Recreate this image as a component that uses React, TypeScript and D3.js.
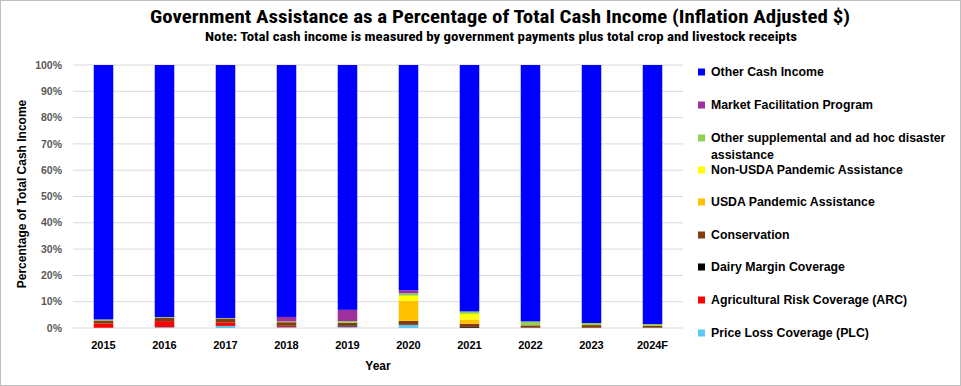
import * as d3 from 'd3'

const years = ['2015', '2016', '2017', '2018', '2019', '2020', '2021', '2022', '2023', '2024F']

// percent of total cash income, bottom of the stack first
const plc = [0.1, 0.3, 0.8, 0.3, 0.4, 1.1, 0.05, 0.05, 0.05, 0.05]
const arc = [1.6, 2.3, 1.3, 0.4, 0.3, 0.1, 0.05, 0.05, 0.05, 0.05]
const dairy = [0.05, 0.05, 0.05, 0.2, 0.3, 0.2, 0.3, 0.1, 0.1, 0.1]
const conservation = [1.1, 1.2, 1.3, 1.3, 1.0, 1.3, 1.2, 0.8, 0.9, 0.7]
const usdaPandemic = [0, 0, 0, 0, 0, 7.7, 1.6, 0, 0, 0]
const nonUsdaPandemic = [0, 0, 0, 0, 0, 1.9, 2.2, 0, 0, 0]
const otherSupplemental = [0.4, 0.3, 0.3, 0.3, 0.6, 0.9, 0.9, 1.5, 0.8, 0.6]
const mfp = [0, 0, 0, 1.7, 4.3, 1.1, 0, 0, 0, 0]
const otherCash = [96.75, 95.85, 96.25, 95.8, 93.1, 85.7, 93.7, 97.5, 98.1, 98.5]

const seriesNames = [
  'Price Loss Coverage (PLC)',
  'Agricultural Risk Coverage (ARC)',
  'Dairy Margin Coverage',
  'Conservation',
  'USDA Pandemic Assistance',
  'Non-USDA Pandemic Assistance',
  'Other supplemental and ad hoc disaster assistance',
  'Market Facilitation Program',
  'Other Cash Income',
]
const seriesValues = [plc, arc, dairy, conservation, usdaPandemic, nonUsdaPandemic, otherSupplemental, mfp, otherCash]
const colors = ['#5fc8f2', '#ff0000', '#000000', '#843c0c', '#ffc000', '#ffff00', '#92d050', '#a0309c', '#0000ff']

const yTicks = [0, 10, 20, 30, 40, 50, 60, 70, 80, 90, 100]

const W = 961
const H = 386
const plot = { left: 73, right: 683, top: 65, bottom: 328 }
const narrow = '"Liberation Sans Narrow", "Roboto Condensed", "Liberation Sans", sans-serif'
const sans = '"Liberation Sans", Arial, sans-serif'

export default function App() {
  const rows = years.map((year, i) => {
    const r: Record<string, number | string> = { year }
    seriesNames.forEach((name, s) => (r[name] = seriesValues[s][i]))
    return r
  })
  const stacked = d3.stack<Record<string, number | string>>().keys(seriesNames).offset(d3.stackOffsetExpand)(rows as any)

  const x = d3.scaleBand().domain(years).range([plot.left, plot.right]).paddingInner(0.68).paddingOuter(0.34)
  const y = d3.scaleLinear().domain([0, 1]).range([plot.bottom, plot.top])

  // legend listed top-down in reverse stack order
  const legend = seriesNames.map((name, i) => ({ name, color: colors[i] })).reverse()
  const legendY = [72, 105, 138, 170, 202, 235, 267, 300, 333]

  return (
    <svg width={W} height={H} style={{ position: 'fixed', left: 0, top: 0, background: '#fff' }}>
      <rect x={0.5} y={0.5} width={W - 1} height={H - 1} fill="#fff" stroke="#bfbfbf" />

      <text x={500} y={23} textAnchor="middle" fontFamily={narrow} fontWeight="bold" fontSize={19}
        textLength={700} lengthAdjust="spacingAndGlyphs">
        Government Assistance as a Percentage of Total Cash Income (Inflation Adjusted $)
      </text>
      <text x={501} y={41} textAnchor="middle" fontFamily={narrow} fontWeight="bold" fontSize={12.5}
        textLength={592} lengthAdjust="spacingAndGlyphs">
        Note: Total cash income is measured by government payments plus total crop and livestock receipts
      </text>

      {yTicks.map((t) => (
        <g key={t}>
          <line x1={plot.left} x2={plot.right} y1={y(t / 100)} y2={y(t / 100)} stroke="#d9d9d9" strokeWidth={1} />
          <text x={62} y={y(t / 100)} dy="0.35em" textAnchor="end" fontFamily={sans} fontWeight="bold"
            fontSize={10.5} fill="#595959">
            {t}%
          </text>
        </g>
      ))}

      {stacked.map((layer, s) => (
        <g key={layer.key} fill={colors[s]}>
          {layer.map((d, i) => {
            const h = y(d[0]) - y(d[1])
            if (h <= 0) return null
            return <rect key={i} x={x(years[i])} y={y(d[1])} width={x.bandwidth()} height={h} />
          })}
        </g>
      ))}

      {years.map((yr) => (
        <text key={yr} x={(x(yr) ?? 0) + x.bandwidth() / 2} y={349} textAnchor="middle" fontFamily={sans}
          fontWeight="bold" fontSize={11}>
          {yr}
        </text>
      ))}

      <text x={378} y={370} textAnchor="middle" fontFamily={sans} fontWeight="bold" fontSize={12}>Year</text>
      <text transform="translate(26,194) rotate(-90)" textAnchor="middle" fontFamily={sans} fontWeight="bold"
        fontSize={12}>
        Percentage of Total Cash Income
      </text>

      {legend.map((l, i) => {
        const ly = legendY[i]
        const wrap = l.name.startsWith('Other supplemental')
        return (
          <g key={l.name}>
            <rect x={698} y={ly - 3.5} width={7} height={7} fill={l.color} />
            <text x={711} y={ly} dy="0.35em" fontFamily={sans} fontWeight="bold" fontSize={12.3}>
              {wrap ? 'Other supplemental and ad hoc disaster' : l.name}
            </text>
            {wrap && (
              <text x={711} y={ly + 16.5} dy="0.35em" fontFamily={sans} fontWeight="bold" fontSize={12.3}>
                assistance
              </text>
            )}
          </g>
        )
      })}
    </svg>
  )
}
